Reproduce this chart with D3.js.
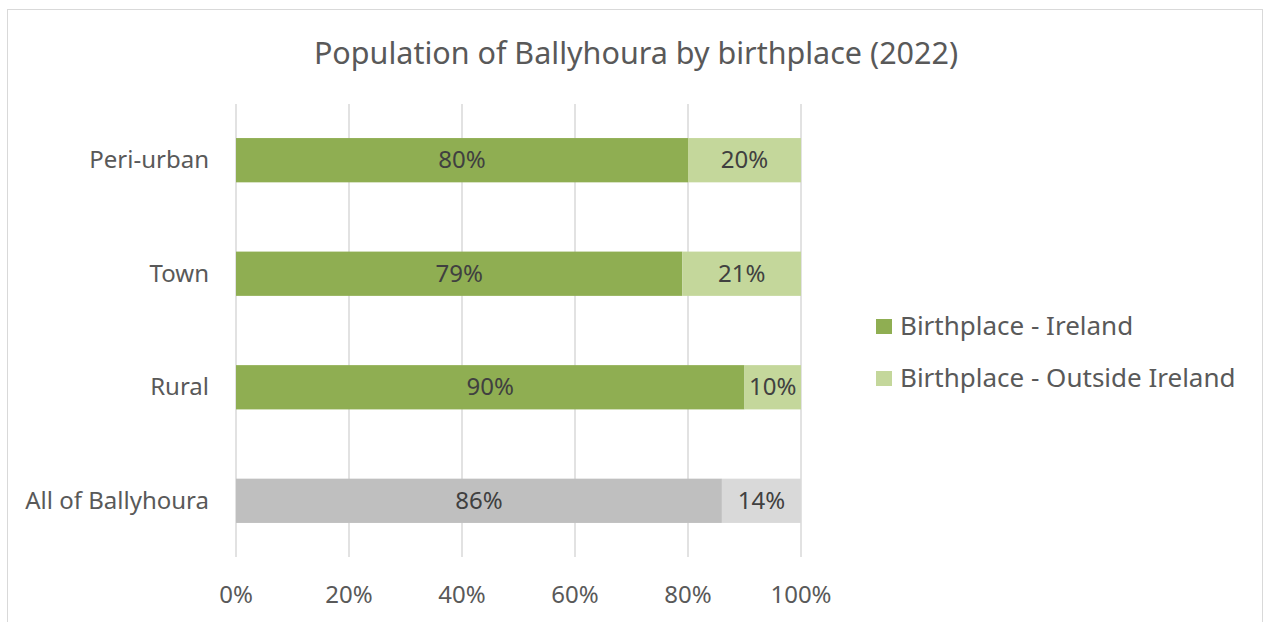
<!DOCTYPE html>
<html>
<head>
<meta charset="utf-8">
<script src="https://cdn.jsdelivr.net/npm/d3@7"></script>
<style>
  body { margin: 0; background: #fff; }
  text { font-family: "Noto Sans", "Open Sans", sans-serif; }
</style>
</head>
<body>
<svg id="chart"></svg>
<script>
// data
var categories = ["Peri-urban", "Town", "Rural", "All of Ballyhoura"]
var ireland = [80, 79, 90, 86]
var outside = [20, 21, 10, 14]
var seriesNames = ["Birthplace - Ireland", "Birthplace - Outside Ireland"]
var xTicks = [0, 20, 40, 60, 80, 100]

var screen = {width: 1265, height: 622}
var margins = {top: 104, bottom: 65, left: 236, right: 464}
var graph = {
    width: screen.width - margins.left - margins.right,
    height: screen.height - margins.top - margins.bottom
}

var svg = d3.select("#chart")
    .attr("width", screen.width)
    .attr("height", screen.height)

// outer frame
svg.append("rect")
    .attr("x", 7.5).attr("y", 9.5)
    .attr("width", 1255).attr("height", 640)
    .attr("fill", "#fff")
    .attr("stroke", "#d9d9d9")

svg.append("text")
    .text("Population of Ballyhoura by birthplace (2022)")
    .attr("x", 636).attr("y", 64)
    .attr("text-anchor", "middle")
    .attr("font-size", 30.5)
    .attr("fill", "#595959")

var xScale = d3.scaleLinear().domain([0, 100]).range([0, graph.width])
var yScale = d3.scaleBand().domain(categories).range([0, graph.height]).paddingInner(0.61).paddingOuter(0.3)

var g = svg.append("g")
    .attr("transform", "translate(" + margins.left + "," + margins.top + ")")

// gridlines
g.selectAll("line.grid")
    .data(xTicks)
    .enter()
    .append("line")
    .classed("grid", true)
    .attr("x1", function(d) { return xScale(d) })
    .attr("x2", function(d) { return xScale(d) })
    .attr("y1", 0)
    .attr("y2", graph.height)
    .attr("stroke", "#d9d9d9")
    .attr("stroke-width", 1.5)

var rows = categories.map(function(c, i) {
    return {cat: c, ire: ireland[i], out: outside[i], all: c == "All of Ballyhoura"}
})

var colors = {
    ire: "#8fae52", out: "#c4d79b",
    allIre: "#bfbfbf", allOut: "#d9d9d9"
}

var bars = g.selectAll("g.row")
    .data(rows)
    .enter()
    .append("g")
    .classed("row", true)

bars.append("rect")
    .attr("x", xScale(0))
    .attr("y", function(d) { return yScale(d.cat) })
    .attr("width", function(d) { return xScale(d.ire) - xScale(0) })
    .attr("height", yScale.bandwidth())
    .attr("fill", function(d) { return d.all ? colors.allIre : colors.ire })

bars.append("rect")
    .attr("x", function(d) { return xScale(d.ire) })
    .attr("y", function(d) { return yScale(d.cat) })
    .attr("width", function(d) { return xScale(d.ire + d.out) - xScale(d.ire) })
    .attr("height", yScale.bandwidth())
    .attr("fill", function(d) { return d.all ? colors.allOut : colors.out })

bars.append("text")
    .text(function(d) { return d.ire + "%" })
    .attr("x", function(d) { return xScale(d.ire / 2) })
    .attr("y", function(d) { return yScale(d.cat) + yScale.bandwidth() / 2 + 8 })
    .attr("text-anchor", "middle")
    .attr("font-size", 24)
    .attr("fill", "#404040")

bars.append("text")
    .text(function(d) { return d.out + "%" })
    .attr("x", function(d) { return xScale(d.ire + d.out / 2) })
    .attr("y", function(d) { return yScale(d.cat) + yScale.bandwidth() / 2 + 8 })
    .attr("text-anchor", "middle")
    .attr("font-size", 24)
    .attr("fill", "#404040")

// category labels
g.selectAll("text.cat")
    .data(categories)
    .enter()
    .append("text")
    .classed("cat", true)
    .text(function(d) { return d })
    .attr("x", -27)
    .attr("y", function(d) { return yScale(d) + yScale.bandwidth() / 2 + 8 })
    .attr("text-anchor", "end")
    .attr("font-size", 24)
    .attr("fill", "#595959")

// x tick labels
g.selectAll("text.tick")
    .data(xTicks)
    .enter()
    .append("text")
    .classed("tick", true)
    .text(function(d) { return d + "%" })
    .attr("x", function(d) { return xScale(d) })
    .attr("y", graph.height + 46)
    .attr("text-anchor", "middle")
    .attr("font-size", 24)
    .attr("fill", "#595959")

// legend
var legend = svg.append("g")
    .attr("transform", "translate(876,319)")

var li = legend.selectAll("g")
    .data(seriesNames)
    .enter()
    .append("g")
    .attr("transform", function(d, i) { return "translate(0," + (i * 52) + ")" })

li.append("rect")
    .attr("width", 16).attr("height", 15)
    .attr("fill", function(d, i) { return i == 0 ? colors.ire : colors.out })

li.append("text")
    .text(function(d) { return d })
    .attr("x", 24).attr("y", 16)
    .attr("font-size", 26)
    .attr("fill", "#595959")
</script>
</body>
</html>
